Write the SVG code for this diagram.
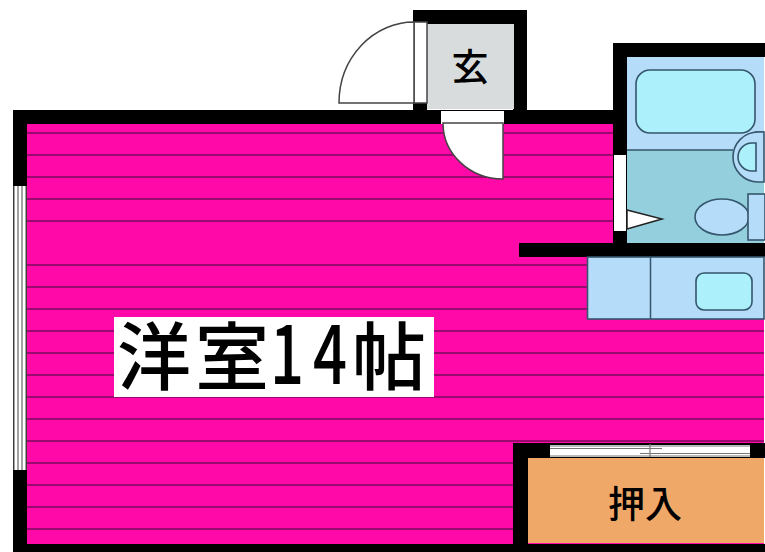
<svg xmlns="http://www.w3.org/2000/svg" width="765" height="552" viewBox="0 0 765 552">
<style>
.wall{fill:#000}
.fx{stroke:#35566c;stroke-width:1.600;fill:#b5dcf8}
.aqua{stroke:#35566c;stroke-width:1.600;fill:#abf0fb}
.door{fill:#fff;stroke:#444;stroke-width:1.500}
.hl{stroke:#7a0a5c;stroke-width:1.600}
text{font-family:"Noto Sans CJK JP","Noto Sans CJK SC",sans-serif;fill:#000;text-anchor:middle}
</style>
<rect width="765" height="552" fill="#fff"/>
<g id="room">
<rect x="27" y="124" width="586" height="119" fill="#ff0aa8"/>
<rect x="27" y="243" width="737" height="301" fill="#ff0aa8"/>
<g class="hl">
<path d="M27 133H613M27 155H613M27 177H613M27 199H613M27 221H613M27 265H587M27 287H587M27 309H587M27 331H764M27 353H764M27 375H764M27 397H764M27 419H764M27 441H764M27 463H513M27 485H513M27 507H513M27 529H513"/>
</g>
</g>
<g id="walls">
<rect class="wall" x="13" y="110" width="600" height="14"/>
<rect class="wall" x="13" y="110" width="14" height="442"/>
<rect class="wall" x="13" y="544" width="752" height="8"/>
<rect class="wall" x="413" y="10" width="114" height="14"/>
<rect class="wall" x="513" y="10" width="14" height="114"/>
<rect class="wall" x="413" y="10" width="14" height="114"/>
<rect class="wall" x="613" y="43" width="152" height="14"/>
<rect class="wall" x="613" y="43" width="14" height="214"/>
<rect class="wall" x="519" y="243" width="246" height="14"/>
<rect class="wall" x="513" y="443" width="252" height="15"/>
<rect class="wall" x="513" y="443" width="15" height="109"/>
</g>
<g id="window-west">
<rect x="14" y="186" width="12" height="284" fill="#fff"/>
<path d="M14 186V470M18 186V470M22 186V470M26 186V470" stroke="#666" stroke-width="1.200" fill="none"/>
</g>
<g id="entrance">
<rect x="427" y="24" width="87" height="85" fill="#d9dcdc"/>
<text x="470" y="81" font-size="37" font-weight="500">玄</text>
</g>
<g id="entry-door">
<rect class="door" x="414" y="22" width="13" height="81" stroke-width="1"/>
<path class="door" d="M414 22A75 81 0 0 0 339 103H414Z"/>
</g>
<g id="inner-door">
<rect x="441" y="111" width="63" height="13" fill="#fff"/>
<path class="door" d="M443 123A60 56 0 0 0 503 179V123Z"/>
</g>
<g id="bath">
<rect x="627" y="57" width="137" height="94" fill="#b5dcf8"/>
<rect x="627" y="150" width="137" height="93" fill="#93cfdc"/>
<path d="M627 150H733" stroke="#35566c" stroke-width="1.500"/>
<path d="M755 132H764" stroke="#35566c" stroke-width="1.500"/>
<rect class="aqua" x="636" y="70" width="119" height="63" rx="14"/>
<path class="fx" d="M764 132H758A25 25 0 0 0 758 182H764Z"/>
<path class="aqua" d="M756 143H752A14 14 0 0 0 752 171H756Z"/>
<ellipse class="fx" cx="722" cy="217" rx="27" ry="18"/>
<rect class="fx" x="748" y="194" width="17" height="46"/>
</g>
<g id="bath-door">
<rect x="614" y="155" width="12" height="76" fill="#fff"/>
<path d="M627 210L662 219L627 229Z" fill="#fff" stroke="#222" stroke-width="1.500"/>
</g>
<g id="kitchen">
<rect class="fx" x="587.500" y="257" width="176.500" height="62" stroke-width="1.500"/>
<path d="M650.500 257V319" stroke="#35566c" stroke-width="1.500"/>
<rect class="aqua" x="696" y="273" width="56" height="37" rx="8"/>
</g>
<g id="closet">
<rect x="528" y="458" width="236" height="85" fill="#f0a868"/>
<text x="645" y="518" font-size="37" font-weight="500">押入</text>
</g>
<g id="closet-door">
<rect x="550" y="445" width="200" height="12" fill="#fff"/>
<path d="M550 446H750M550 448.500H662M640 453.500H750M550 456H750M650 444V457" stroke="#777" stroke-width="1.200" fill="none"/>
</g>
<g id="label">
<rect x="114" y="317" width="320" height="80" fill="#fff"/>
<text x="154" y="384" font-size="74" font-weight="500">洋</text>
<text x="232" y="384" font-size="74" font-weight="500">室</text>
<text transform="translate(287 384) scale(.72 1)" font-size="83" font-weight="500">1</text>
<text transform="translate(330 384) scale(.72 1)" font-size="83" font-weight="500">4</text>
<text x="389" y="384" font-size="74" font-weight="500">帖</text>
</g>
</svg>
